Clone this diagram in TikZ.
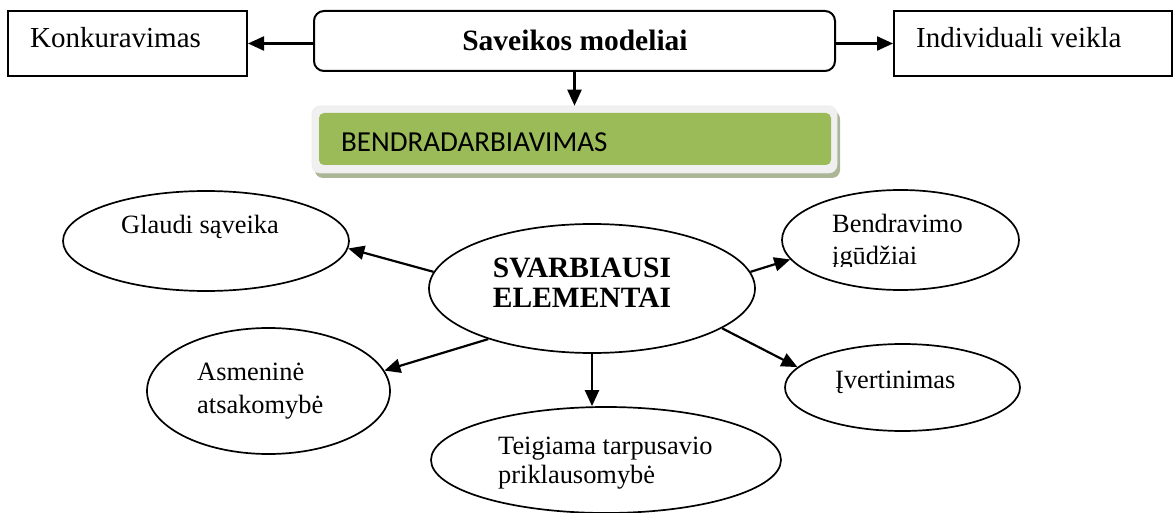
\documentclass[tikz,border=0pt]{standalone}
\usepackage{fontspec}
\setmainfont{Liberation Serif}
\newfontfamily\calfont{Carlito}
\usetikzlibrary{arrows.meta,shapes.geometric}
\definecolor{olive}{HTML}{9BBB59}
\definecolor{framec}{HTML}{F0F0F0}
\definecolor{shadowc}{RGB}{170,182,150}
\begin{document}
\begin{tikzpicture}[x=1pt,y=-1pt,
  box/.style={draw,line width=2pt,inner sep=0,rectangle},
  arr/.style={line width=2.2pt,-{Triangle[length=16pt,width=14pt]}},
  ell/.style={draw,ellipse,line width=1.7pt,inner sep=0},
  txt/.style={font=\fontsize{29}{33}\selectfont,anchor=base west,inner sep=0},
  etxt/.style={font=\fontsize{26.4}{30}\selectfont,anchor=base west,inner sep=0},
  btxt/.style={font=\fontsize{29.5}{33}\selectfont\bfseries,anchor=base,inner sep=0},
]
\useasboundingbox (0,0) rectangle (1176,513);

% top row
\node[box,minimum width=239pt,minimum height=65pt] (konk) at (127.5,43.5) {};
\node[txt] (konkT) at (30,48) {Konkuravimas};
\node[box,rounded corners=10pt,minimum width=521pt,minimum height=60pt] (sav) at (574.5,41) {};
\node[btxt] (savT) at (575,51) {Saveikos modeliai};
\node[box,minimum width=278pt,minimum height=65pt] (ind) at (1033,43.5) {};
\node[txt] (indT) at (916,48) {Individuali veikla};

% green box
\fill[shadowc,rounded corners=8pt] (315,111) rectangle (840,178);
\node[fill=framec,draw=black!8,line width=0.6pt,rounded corners=8pt,minimum width=525pt,minimum height=67pt,inner sep=0] (grnF) at (574.5,139.5) {};
\node[fill=olive,rounded corners=5pt,minimum width=512pt,minimum height=52pt,inner sep=0] (grn) at (575,139) {};
\node[anchor=base west,inner sep=0,font=\calfont\fontsize{29}{33}\selectfont] (grnT) at (341,152) {BENDRADARBIAVIMAS};

\draw[arr] (sav.west |- konk.east) -- (konk.east);
\draw[arr] (sav.east |- ind.west) -- (ind.west);
\draw[arr] (sav.south) -- (sav.south |- grnF.north);

% ellipses
\node[ell,minimum width=286pt,minimum height=100pt] (gl) at (206,241) {};
\node[ell,minimum width=243pt,minimum height=126pt] (as) at (268.5,391) {};
\node[ell,minimum width=326pt,minimum height=129pt] (sv) at (592,288.5) {};
\node[ell,minimum width=350pt,minimum height=106pt] (tg) at (606,460) {};
\node[ell,minimum width=237pt,minimum height=100pt] (bd) at (900.5,240) {};
\node[ell,minimum width=235pt,minimum height=87pt] (iv) at (902.5,387.5) {};

\node[etxt] (glT) at (121,234) {Glaudi sąveika};
\node[etxt] (asT1) at (197,380) {Asmeninė};
\node[etxt] (asT2) at (197,413) {atsakomybė};
\node[btxt] (svT1) at (582,277) {SVARBIAUSI};
\node[btxt] (svT2) at (582,307) {ELEMENTAI};
\node[etxt] (tgT1) at (498,454) {Teigiama tarpusavio};
\begin{scope}
  \clip (480,460) rectangle (760,490);
  \node[etxt] (tgT2) at (498,483) {priklausomybė};
\end{scope}
\node[etxt] (bdT1) at (832,233) {Bendravimo};
\begin{scope}
  \clip (800,240) rectangle (1000,267);
  \node[etxt] (bdT2) at (832,265) {įgūdžiai};
\end{scope}
\node[etxt] (ivT) at (835,388) {Įvertinimas};

% connectors
\draw[arr] (sv.174) -- (gl.-3);
\draw[arr] (sv.206) -- (as.10);
\draw[arr] (sv.south) -- (sv.south |- tg.north);
\draw[arr] (sv.6) -- (bd.190.6);
\draw[arr] (sv.-17) -- (iv.169);
\end{tikzpicture}
\end{document}
